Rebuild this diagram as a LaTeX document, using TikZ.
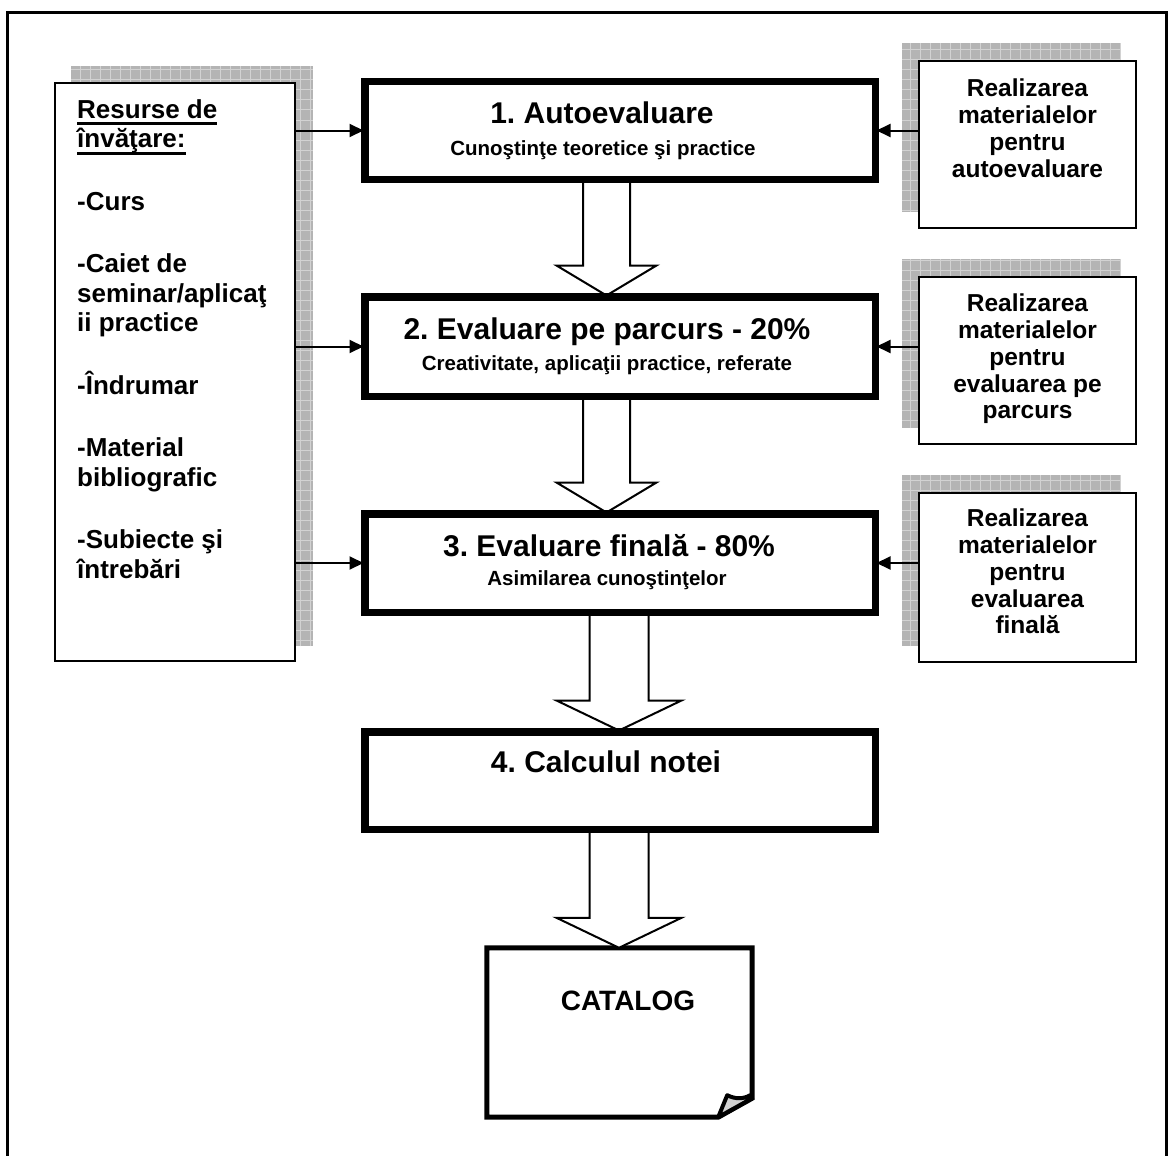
\documentclass[tikz,border=0pt]{standalone}
\usepackage{fontspec}
\setmainfont{Liberation Sans}
\frenchspacing
\usetikzlibrary{arrows.meta, calc, backgrounds}
\definecolor{shadowgray}{HTML}{B4B4B4}
\definecolor{shadowline}{HTML}{D2D2D2}

% thick underline
\newcommand{\ulbox}[1]{\setbox0\hbox{#1}\rlap{\rule[-7pt]{\wd0}{2.8pt}}\box0}
% hollow block arrow: from, to, x centre, shaft half width, head half width
\newcommand{\fatarrow}[5]{%
  \draw[fatline] ($(#3,0 |- #1.south)+(-#4,0)$)
    -- ($(#3,0 |- #2.north)+(-#4,-30)$)
    -- ($(#3,0 |- #2.north)+(-#5,-30)$)
    -- (#3,0 |- #2.north)
    -- ($(#3,0 |- #2.north)+(#5,-30)$)
    -- ($(#3,0 |- #2.north)+(#4,-30)$)
    -- ($(#3,0 |- #1.south)+(#4,0)$);}
% hatched drop shadow
\newcommand{\gridshadow}[2]{%
  \fill[shadowgray] #1 rectangle #2;
  \begin{scope}
    \clip #1 rectangle #2;
    \draw[shadowline, line width=1pt, step=10pt] #1 grid #2;
  \end{scope}}

\begin{document}
\begin{tikzpicture}[x=1pt, y=-1pt,
    stagebox/.style={draw, line width=5pt, fill=white, minimum width=508pt, inner sep=0pt},
    sidebox/.style={draw, line width=2.5pt, fill=white, inner sep=0pt},
    fatline/.style={draw, line width=2pt, fill=white, line join=miter},
    feed/.style={-{Triangle[length=14pt, width=13pt]}, line width=2pt},
    titletext/.style={font=\fontsize{30}{34}\selectfont\bfseries, anchor=base, inner sep=0pt},
    subtext/.style={font=\fontsize{20.5}{24}\selectfont\bfseries, anchor=base, inner sep=0pt},
    preptext/.style={font=\fontsize{24.5}{26.8}\selectfont\bfseries, align=center, anchor=north, inner sep=0pt}]
  \useasboundingbox (0,0) rectangle (1171,1156);
  % outer frame
  \draw[line width=3pt] (7,1180) -- (7,13) -- (1166,13) -- (1166,1180);

  % Stage 1: Autoevaluare
  \node[stagebox, minimum height=95pt] (b1) at (620,130.5) {};
  \node[titletext] (t1) at (602,123) {1. Autoevaluare};
  \node[subtext] (s1) at (603,155) {Cunoştinţe teoretice şi practice};
  % Stage 2: Evaluare pe parcurs
  \node[stagebox, minimum height=97pt] (b2) at (620,346.5) {};
  \node[titletext] (t2) at (607,339) {2. Evaluare pe parcurs - 20\%};
  \node[subtext] (s2) at (607,370) {Creativitate, aplicaţii practice, referate};
  % Stage 3: Evaluare finala
  \node[stagebox, minimum height=96pt] (b3) at (620,563) {};
  \node[titletext] (t3) at (609,556) {3. Evaluare finală - 80\%};
  \node[subtext] (s3) at (607,585) {Asimilarea cunoştinţelor};
  % Stage 4: Calculul notei
  \node[stagebox, minimum height=95pt] (b4) at (620,780.5) {};
  \node[titletext] (t4) at (606,772) {4. Calculul notei};
  % Catalog sheet
  \node[minimum width=265pt, minimum height=169pt, inner sep=0pt] (cat) at (619.5,1032.5) {};
  \draw[line width=5pt, line join=miter, fill=white] (cat.north west) -- (cat.north east)
    -- ($(cat.south east)+(0,-19)$) -- ($(cat.south east)+(-34,0)$) -- (cat.south west) -- cycle;
  \filldraw[fill=gray!35, line width=4pt, line join=round] ($(cat.south east)+(-34,0)$)
    -- ($(cat.south east)+(-25,-22)$)
    .. controls ($(cat.south east)+(-17,-18)$) and ($(cat.south east)+(-9,-18)$) .. ($(cat.south east)+(-2,-22)$)
    -- ($(cat.south east)+(0,-19)$) -- cycle;
  \node[font=\fontsize{28}{32}\selectfont\bfseries, anchor=base, inner sep=0pt] (catlabel) at (628,1010) {CATALOG};

  % Resources on the left
  \node[sidebox, minimum width=240pt, minimum height=578pt] (lbox) at (175,372) {};
  \node[font=\fontsize{26}{29.5}\selectfont\bfseries, align=left, anchor=north west, inner sep=0pt]
    (restext) at (77,99) {\ulbox{Resurse de}\\\ulbox{învăţare:}\\[33pt]
      -Curs\\[33pt]
      -Caiet de\\seminar/aplicaţ\\ii practice\\[33pt]
      -Îndrumar\\[33pt]
      -Material\\bibliografic\\[33pt]
      -Subiecte şi\\întrebări};

  % Preparation boxes on the right
  \node[sidebox, minimum width=217pt, minimum height=167pt] (r1) at (1027.5,144.5) {};
  \node[preptext] (p1) at ($(r1.north)+(0,19)$) {Realizarea\\materialelor\\pentru\\autoevaluare};
  \node[sidebox, minimum width=217pt, minimum height=167pt] (r2) at (1027.5,360.5) {};
  \node[preptext] (p2) at ($(r2.north)+(0,18)$) {Realizarea\\materialelor\\pentru\\evaluarea pe\\parcurs};
  \node[sidebox, minimum width=217pt, minimum height=169pt] (r3) at (1027.5,577.5) {};
  \node[preptext] (p3) at ($(r3.north)+(0,17)$) {Realizarea\\materialelor\\pentru\\evaluarea\\finală};

  % shadows behind the side boxes
  \begin{scope}[on background layer]
    \gridshadow{($(lbox.south west)+(17,-16)$)}{($(lbox.north east)+(17,-16)$)}
    \gridshadow{($(r1.south west)+(-16,-17)$)}{($(r1.north east)+(-16,-17)$)}
    \gridshadow{($(r2.south west)+(-16,-17)$)}{($(r2.north east)+(-16,-17)$)}
    \gridshadow{($(r3.south west)+(-16,-17)$)}{($(r3.north east)+(-16,-17)$)}
  \end{scope}

  % block arrows down the middle
  \fatarrow{b1}{b2}{606.5}{23.5}{50}
  \fatarrow{b2}{b3}{606.5}{23.5}{50}
  \fatarrow{b3}{b4}{619}{29.5}{62.5}
  \fatarrow{b4}{cat}{619}{29.5}{62.5}
  % redraw stage borders over the shaft ends
  \foreach \b in {b1,b2,b3,b4}
    \draw[line width=5pt] (\b.north west) rectangle (\b.south east);

  % feeds from the sides
  \draw[feed] (lbox.east |- b1.west) -- (b1.west);
  \draw[feed] (lbox.east |- b2.west) -- (b2.west);
  \draw[feed] (lbox.east |- b3.west) -- (b3.west);
  \draw[feed] (r1.west |- b1.east) -- (b1.east);
  \draw[feed] (r2.west |- b2.east) -- (b2.east);
  \draw[feed] (r3.west |- b3.east) -- (b3.east);
\end{tikzpicture}
\end{document}
